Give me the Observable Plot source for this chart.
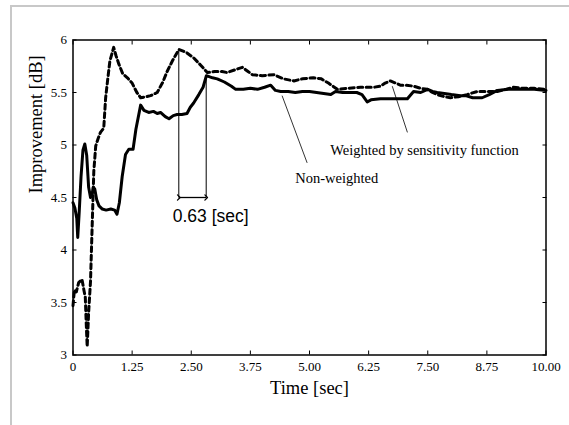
<!DOCTYPE html>
<html><head><meta charset="utf-8">
<script src="https://cdn.jsdelivr.net/npm/d3@7"></script>
<script src="https://cdn.jsdelivr.net/npm/@observablehq/plot@0.6"></script>
<style>
html,body{margin:0;padding:0;background:#fff;overflow:hidden;}
#chart{position:absolute;left:0;top:0;}
#frame{position:absolute;left:10px;top:5px;width:620px;height:480px;border:2px solid #c8c8c8;pointer-events:none;}
</style></head><body>
<div id="chart"></div><div id="frame"></div>
<script>
// ---- data ----
const xTicks = [0, 1.25, 2.5, 3.75, 5, 6.25, 7.5, 8.75, 10];
const xTickLabels = ["0", "1.25", "2.50", "3.75", "5.00", "6.25", "7.50", "8.75", "10.00"];
const yTicks = [3, 3.5, 4, 4.5, 5, 5.5, 6];
const yTickLabels = ["3", "3.5", "4", "4.5", "5", "5.5", "6"];
const xLabel = "Time [sec]";
const yLabel = "Improvement [dB]";

// Non-weighted (solid)
const solidT = [0, 0.04, 0.08, 0.10, 0.13, 0.17, 0.21, 0.25, 0.29, 0.33, 0.37, 0.40, 0.43, 0.46, 0.50, 0.55, 0.62, 0.70, 0.80, 0.88, 0.93, 0.98, 1.04, 1.11, 1.18, 1.27, 1.33, 1.43, 1.50, 1.60, 1.70, 1.78, 1.85, 1.95, 2.03, 2.12, 2.20, 2.30, 2.41, 2.48, 2.55, 2.66, 2.75, 2.82, 2.95, 3.05, 3.20, 3.35, 3.44, 3.60, 3.75, 3.90, 4.05, 4.18, 4.28, 4.39, 4.55, 4.70, 4.85, 5.00, 5.15, 5.30, 5.45, 5.55, 5.70, 5.85, 6.00, 6.11, 6.22, 6.30, 6.50, 6.70, 6.90, 7.07, 7.20, 7.35, 7.50, 7.60, 7.70, 7.85, 8.00, 8.19, 8.30, 8.45, 8.65, 8.80, 8.97, 9.20, 9.50, 9.75, 10.0];
const solidV = [4.45, 4.40, 4.30, 4.12, 4.35, 4.70, 4.95, 5.01, 4.90, 4.60, 4.50, 4.52, 4.60, 4.58, 4.48, 4.42, 4.39, 4.38, 4.39, 4.38, 4.34, 4.45, 4.70, 4.91, 4.96, 4.96, 5.15, 5.38, 5.33, 5.31, 5.32, 5.30, 5.31, 5.27, 5.25, 5.28, 5.29, 5.29, 5.30, 5.36, 5.40, 5.48, 5.55, 5.66, 5.64, 5.63, 5.60, 5.56, 5.53, 5.53, 5.54, 5.53, 5.55, 5.57, 5.52, 5.51, 5.51, 5.50, 5.51, 5.51, 5.50, 5.49, 5.48, 5.51, 5.50, 5.50, 5.50, 5.48, 5.41, 5.43, 5.44, 5.44, 5.44, 5.44, 5.51, 5.50, 5.53, 5.51, 5.50, 5.49, 5.48, 5.47, 5.47, 5.45, 5.45, 5.48, 5.52, 5.53, 5.53, 5.53, 5.52];

// Weighted by sensitivity function (dashed)
const weightedT = [0, 0.03, 0.07, 0.12, 0.19, 0.23, 0.26, 0.28, 0.30, 0.33, 0.37, 0.41, 0.44, 0.48, 0.53, 0.58, 0.65, 0.69, 0.74, 0.78, 0.86, 0.91, 0.97, 1.05, 1.15, 1.25, 1.35, 1.43, 1.55, 1.64, 1.78, 1.90, 1.99, 2.10, 2.24, 2.40, 2.55, 2.70, 2.84, 3.00, 3.15, 3.26, 3.45, 3.58, 3.70, 3.79, 4.00, 4.25, 4.45, 4.67, 4.85, 5.08, 5.25, 5.40, 5.59, 5.80, 6.08, 6.36, 6.50, 6.60, 6.71, 6.82, 6.92, 7.05, 7.20, 7.35, 7.49, 7.60, 7.70, 7.85, 7.98, 8.15, 8.33, 8.55, 8.75, 8.97, 9.15, 9.31, 9.50, 9.75, 10.0];
const weightedV = [3.47, 3.62, 3.60, 3.69, 3.72, 3.62, 3.55, 3.30, 3.08, 3.40, 3.70, 4.30, 4.75, 4.99, 5.06, 5.12, 5.16, 5.45, 5.65, 5.80, 5.93, 5.85, 5.77, 5.68, 5.64, 5.59, 5.50, 5.45, 5.46, 5.47, 5.50, 5.60, 5.70, 5.80, 5.91, 5.88, 5.83, 5.76, 5.69, 5.70, 5.70, 5.69, 5.72, 5.74, 5.70, 5.67, 5.66, 5.67, 5.63, 5.61, 5.63, 5.64, 5.63, 5.59, 5.53, 5.54, 5.55, 5.55, 5.56, 5.59, 5.61, 5.59, 5.57, 5.57, 5.56, 5.54, 5.53, 5.50, 5.48, 5.46, 5.45, 5.46, 5.48, 5.51, 5.51, 5.51, 5.53, 5.55, 5.54, 5.54, 5.53];

// annotation: delay bracket
const bracketT = [2.237, 2.816];
const bracketTopV = [5.91, 5.66];
const bracketBaseV = 4.5;
const delayText = "0.63 [sec]";
const delayTextT = 2.91;
const delayTextV = 4.32;

// annotation: curve labels with leader lines
const curveLabels = ["Non-weighted", "Weighted by sensitivity function"];
const labelT = [4.70, 5.44];
const labelV = [4.68, 4.95];
const leaderT1 = [4.42, 6.75];
const leaderV1 = [5.47, 5.56];
const leaderT2 = [4.95, 7.07];
const leaderV2 = [4.83, 5.12];

// ---- build tables ----
const solid = solidT.map((t, i) => ({t, v: solidV[i]}));
const weighted = weightedT.map((t, i) => ({t, v: weightedV[i]}));
const bracket = bracketT.map((t, i) => ({x1: t, y1: bracketTopV[i], x2: t, y2: bracketBaseV}));
const span = [{x1: bracketT[0], x2: bracketT[1], y: bracketBaseV}];
const leaders = curveLabels.map((s, i) => ({x1: leaderT1[i], y1: leaderV1[i], x2: leaderT2[i], y2: leaderV2[i]}));
const labels = curveLabels.map((s, i) => ({text: s, t: labelT[i], v: labelV[i]}));

const serif = "'Liberation Serif', 'Times New Roman', serif";

const chart = Plot.plot({
  width: 569,
  height: 425,
  marginLeft: 72.5,
  marginRight: 23.5,
  marginTop: 39.5,
  marginBottom: 70.5,
  style: {background: "transparent", fontFamily: serif, fontSize: "13px", color: "black"},
  x: {domain: [0, 10]},
  y: {domain: [3, 6]},
  marks: [
    Plot.axisX({ticks: xTicks, tickFormat: d => xTickLabels[xTicks.indexOf(d)], tickSize: 0, tickPadding: 7, label: null, fontSize: 13}),
    Plot.axisX({ticks: xTicks, tickFormat: () => "", tickSize: 4, dy: -4, label: null, strokeWidth: 1}),
    Plot.axisX({anchor: "top", ticks: xTicks, tickFormat: () => "", tickSize: 4, dy: 4, label: null, strokeWidth: 1}),
    Plot.axisY({ticks: yTicks, tickFormat: d => yTickLabels[yTicks.indexOf(d)], tickSize: 0, tickPadding: 6, label: null, fontSize: 13}),
    Plot.axisY({ticks: yTicks, tickFormat: () => "", tickSize: 4, dx: 4, label: null, strokeWidth: 1}),
    Plot.axisY({anchor: "right", ticks: yTicks, tickFormat: () => "", tickSize: 4, dx: -4, label: null, strokeWidth: 1}),
    Plot.text([xLabel], {frameAnchor: "bottom", dy: 33.5, lineAnchor: "middle", fontSize: 18.5}),
    Plot.text([yLabel], {frameAnchor: "left", dx: -37, dy: -4, rotate: -90, lineAnchor: "middle", fontSize: 18.5}),
    Plot.line(weighted, {x: "t", y: "v", stroke: "black", strokeWidth: 3, strokeDasharray: "5,3.5", strokeLinejoin: "round"}),
    Plot.line(solid, {x: "t", y: "v", stroke: "black", strokeWidth: 3, strokeLinejoin: "round"}),
    Plot.link(bracket, {x1: "x1", y1: "y1", x2: "x2", y2: "y2", stroke: "black", strokeWidth: 1}),
    Plot.link(span, {x1: "x1", x2: "x2", y1: "y", y2: "y", stroke: "black", strokeWidth: 1.3, markerStart: "arrow", markerEnd: "arrow"}),
    Plot.text([delayText], {x: () => delayTextT, y: () => delayTextV, text: d => d, fontSize: 17.5, fontFamily: "'Liberation Sans', sans-serif", textAnchor: "middle", lineAnchor: "middle"}),
    Plot.link(leaders, {x1: "x1", y1: "y1", x2: "x2", y2: "y2", stroke: "black", strokeWidth: 0.8}),
    Plot.text(labels, {x: "t", y: "v", text: "text", textAnchor: "start", lineAnchor: "middle", fontSize: 14.5}),
    Plot.frame({stroke: "black", strokeWidth: 1.5})
  ]
});
document.getElementById("chart").appendChild(chart);
</script>
</body></html>
